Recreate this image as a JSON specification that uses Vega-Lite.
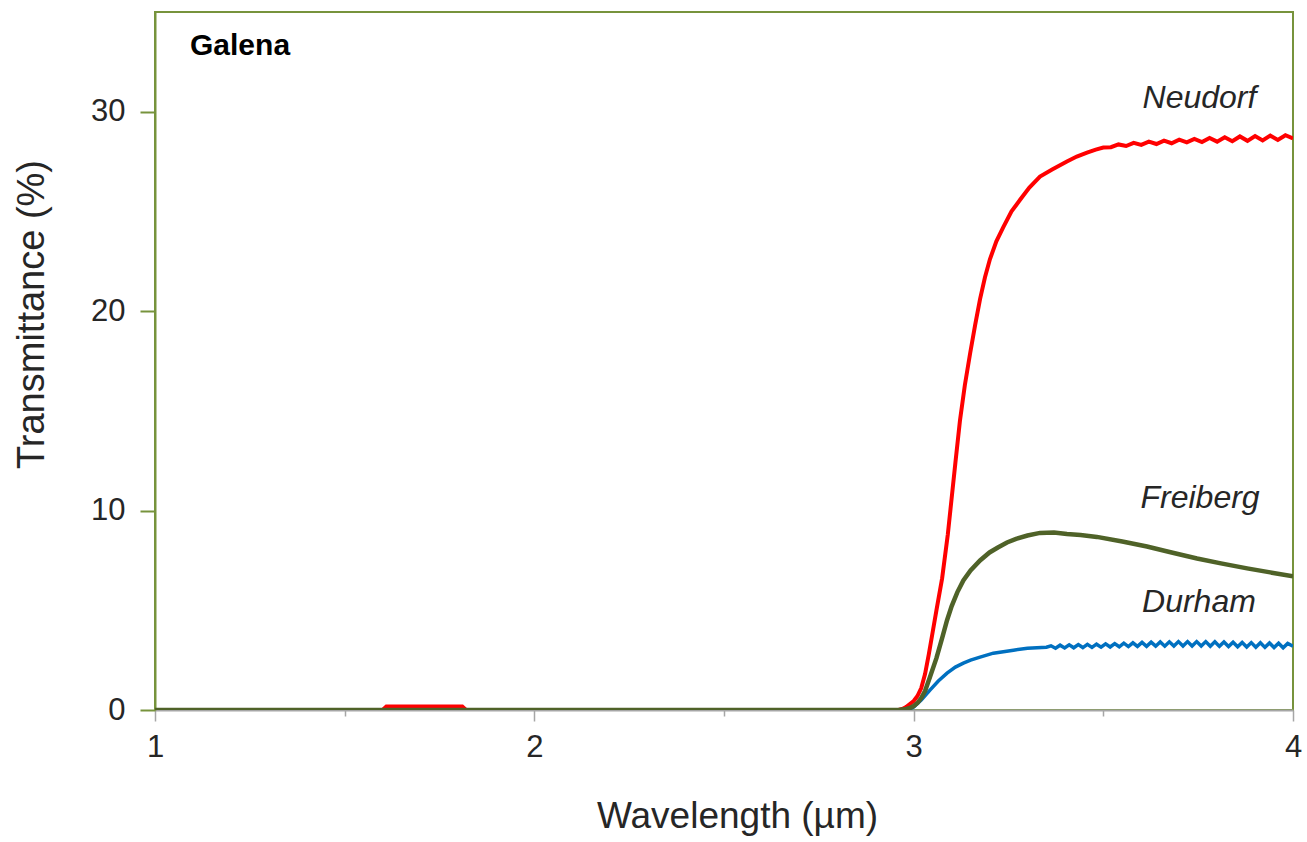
{
  "$schema": "https://vega.github.io/schema/vega-lite/v6.json",
  "width": 1138,
  "height": 698,
  "autosize": "none",
  "padding": {"left": 155, "top": 12, "right": 14, "bottom": 132},
  "background": "white",
  "config": {
    "view": {"stroke": "#77933C", "strokeWidth": 2},
    "font": "Liberation Sans"
  },
  "datasets": {
    "spectra": [
      {"s": "Durham", "w": 1.0, "t": 0},
      {"s": "Durham", "w": 2.96, "t": 0},
      {"s": "Durham", "w": 2.99, "t": 0.05},
      {"s": "Durham", "w": 3.0, "t": 0.15},
      {"s": "Durham", "w": 3.02, "t": 0.5},
      {"s": "Durham", "w": 3.043, "t": 1.0},
      {"s": "Durham", "w": 3.065, "t": 1.45},
      {"s": "Durham", "w": 3.088, "t": 1.85},
      {"s": "Durham", "w": 3.11, "t": 2.15},
      {"s": "Durham", "w": 3.131, "t": 2.35},
      {"s": "Durham", "w": 3.15, "t": 2.5},
      {"s": "Durham", "w": 3.175, "t": 2.65},
      {"s": "Durham", "w": 3.21, "t": 2.85},
      {"s": "Durham", "w": 3.263, "t": 3.0},
      {"s": "Durham", "w": 3.3, "t": 3.1},
      {"s": "Durham", "w": 3.35, "t": 3.15},
      {"s": "Durham", "w": 3.362, "t": 3.22},
      {"s": "Durham", "w": 3.374, "t": 3.1},
      {"s": "Durham", "w": 3.386, "t": 3.25},
      {"s": "Durham", "w": 3.398, "t": 3.11},
      {"s": "Durham", "w": 3.41, "t": 3.27},
      {"s": "Durham", "w": 3.422, "t": 3.12},
      {"s": "Durham", "w": 3.434, "t": 3.28},
      {"s": "Durham", "w": 3.446, "t": 3.13},
      {"s": "Durham", "w": 3.458, "t": 3.29},
      {"s": "Durham", "w": 3.47, "t": 3.14},
      {"s": "Durham", "w": 3.482, "t": 3.3},
      {"s": "Durham", "w": 3.494, "t": 3.15},
      {"s": "Durham", "w": 3.506, "t": 3.32},
      {"s": "Durham", "w": 3.518, "t": 3.16},
      {"s": "Durham", "w": 3.53, "t": 3.33},
      {"s": "Durham", "w": 3.542, "t": 3.17},
      {"s": "Durham", "w": 3.554, "t": 3.35},
      {"s": "Durham", "w": 3.566, "t": 3.18},
      {"s": "Durham", "w": 3.578, "t": 3.37},
      {"s": "Durham", "w": 3.59, "t": 3.19},
      {"s": "Durham", "w": 3.602, "t": 3.39},
      {"s": "Durham", "w": 3.614, "t": 3.19},
      {"s": "Durham", "w": 3.626, "t": 3.4},
      {"s": "Durham", "w": 3.638, "t": 3.2},
      {"s": "Durham", "w": 3.65, "t": 3.41},
      {"s": "Durham", "w": 3.662, "t": 3.2},
      {"s": "Durham", "w": 3.674, "t": 3.42},
      {"s": "Durham", "w": 3.686, "t": 3.21},
      {"s": "Durham", "w": 3.698, "t": 3.43},
      {"s": "Durham", "w": 3.71, "t": 3.21},
      {"s": "Durham", "w": 3.722, "t": 3.43},
      {"s": "Durham", "w": 3.734, "t": 3.21},
      {"s": "Durham", "w": 3.746, "t": 3.43},
      {"s": "Durham", "w": 3.758, "t": 3.21},
      {"s": "Durham", "w": 3.77, "t": 3.43},
      {"s": "Durham", "w": 3.782, "t": 3.2},
      {"s": "Durham", "w": 3.794, "t": 3.42},
      {"s": "Durham", "w": 3.806, "t": 3.19},
      {"s": "Durham", "w": 3.818, "t": 3.41},
      {"s": "Durham", "w": 3.83, "t": 3.18},
      {"s": "Durham", "w": 3.842, "t": 3.4},
      {"s": "Durham", "w": 3.854, "t": 3.17},
      {"s": "Durham", "w": 3.866, "t": 3.39},
      {"s": "Durham", "w": 3.878, "t": 3.16},
      {"s": "Durham", "w": 3.89, "t": 3.38},
      {"s": "Durham", "w": 3.902, "t": 3.15},
      {"s": "Durham", "w": 3.914, "t": 3.37},
      {"s": "Durham", "w": 3.926, "t": 3.14},
      {"s": "Durham", "w": 3.938, "t": 3.36},
      {"s": "Durham", "w": 3.95, "t": 3.13},
      {"s": "Durham", "w": 3.962, "t": 3.35},
      {"s": "Durham", "w": 3.974, "t": 3.12},
      {"s": "Durham", "w": 3.986, "t": 3.34},
      {"s": "Durham", "w": 4.0, "t": 3.2},

      {"s": "Neudorf", "w": 1.0, "t": 0},
      {"s": "Neudorf", "w": 1.6, "t": 0},
      {"s": "Neudorf", "w": 1.61, "t": 0.18},
      {"s": "Neudorf", "w": 1.81, "t": 0.18},
      {"s": "Neudorf", "w": 1.82, "t": 0},
      {"s": "Neudorf", "w": 2.96, "t": 0},
      {"s": "Neudorf", "w": 2.97, "t": 0.05},
      {"s": "Neudorf", "w": 2.98, "t": 0.15},
      {"s": "Neudorf", "w": 2.99, "t": 0.3},
      {"s": "Neudorf", "w": 3.0, "t": 0.45},
      {"s": "Neudorf", "w": 3.01, "t": 0.7},
      {"s": "Neudorf", "w": 3.02, "t": 1.1},
      {"s": "Neudorf", "w": 3.03, "t": 1.8},
      {"s": "Neudorf", "w": 3.04, "t": 2.8},
      {"s": "Neudorf", "w": 3.05, "t": 3.9},
      {"s": "Neudorf", "w": 3.06, "t": 5.0},
      {"s": "Neudorf", "w": 3.075, "t": 6.6},
      {"s": "Neudorf", "w": 3.09, "t": 8.8},
      {"s": "Neudorf", "w": 3.1, "t": 10.6},
      {"s": "Neudorf", "w": 3.11, "t": 12.4},
      {"s": "Neudorf", "w": 3.122, "t": 14.5},
      {"s": "Neudorf", "w": 3.135, "t": 16.3},
      {"s": "Neudorf", "w": 3.149, "t": 17.9},
      {"s": "Neudorf", "w": 3.162, "t": 19.3},
      {"s": "Neudorf", "w": 3.175, "t": 20.6},
      {"s": "Neudorf", "w": 3.188, "t": 21.7},
      {"s": "Neudorf", "w": 3.201, "t": 22.6},
      {"s": "Neudorf", "w": 3.218, "t": 23.5},
      {"s": "Neudorf", "w": 3.236, "t": 24.2},
      {"s": "Neudorf", "w": 3.258, "t": 25.0},
      {"s": "Neudorf", "w": 3.281, "t": 25.6},
      {"s": "Neudorf", "w": 3.305, "t": 26.2},
      {"s": "Neudorf", "w": 3.333, "t": 26.75},
      {"s": "Neudorf", "w": 3.365, "t": 27.1},
      {"s": "Neudorf", "w": 3.404, "t": 27.5},
      {"s": "Neudorf", "w": 3.43, "t": 27.75},
      {"s": "Neudorf", "w": 3.457, "t": 27.95},
      {"s": "Neudorf", "w": 3.48, "t": 28.1},
      {"s": "Neudorf", "w": 3.5, "t": 28.2},
      {"s": "Neudorf", "w": 3.52, "t": 28.22},
      {"s": "Neudorf", "w": 3.54, "t": 28.36},
      {"s": "Neudorf", "w": 3.56, "t": 28.28},
      {"s": "Neudorf", "w": 3.58, "t": 28.44},
      {"s": "Neudorf", "w": 3.6, "t": 28.34},
      {"s": "Neudorf", "w": 3.62, "t": 28.5},
      {"s": "Neudorf", "w": 3.64, "t": 28.38},
      {"s": "Neudorf", "w": 3.66, "t": 28.55},
      {"s": "Neudorf", "w": 3.68, "t": 28.42},
      {"s": "Neudorf", "w": 3.7, "t": 28.6},
      {"s": "Neudorf", "w": 3.72, "t": 28.46},
      {"s": "Neudorf", "w": 3.74, "t": 28.64},
      {"s": "Neudorf", "w": 3.76, "t": 28.48},
      {"s": "Neudorf", "w": 3.78, "t": 28.68},
      {"s": "Neudorf", "w": 3.8, "t": 28.5},
      {"s": "Neudorf", "w": 3.82, "t": 28.72},
      {"s": "Neudorf", "w": 3.84, "t": 28.52},
      {"s": "Neudorf", "w": 3.86, "t": 28.76},
      {"s": "Neudorf", "w": 3.88, "t": 28.54},
      {"s": "Neudorf", "w": 3.9, "t": 28.78},
      {"s": "Neudorf", "w": 3.92, "t": 28.56},
      {"s": "Neudorf", "w": 3.94, "t": 28.8},
      {"s": "Neudorf", "w": 3.96, "t": 28.58},
      {"s": "Neudorf", "w": 3.98, "t": 28.82},
      {"s": "Neudorf", "w": 4.0, "t": 28.66},

      {"s": "Freiberg", "w": 1.0, "t": 0},
      {"s": "Freiberg", "w": 2.96, "t": 0},
      {"s": "Freiberg", "w": 2.98, "t": 0.05},
      {"s": "Freiberg", "w": 2.99, "t": 0.1},
      {"s": "Freiberg", "w": 3.0, "t": 0.2},
      {"s": "Freiberg", "w": 3.01, "t": 0.35},
      {"s": "Freiberg", "w": 3.02, "t": 0.6},
      {"s": "Freiberg", "w": 3.03, "t": 0.95},
      {"s": "Freiberg", "w": 3.043, "t": 1.65},
      {"s": "Freiberg", "w": 3.06, "t": 2.6},
      {"s": "Freiberg", "w": 3.075, "t": 3.6},
      {"s": "Freiberg", "w": 3.088, "t": 4.5},
      {"s": "Freiberg", "w": 3.1, "t": 5.2},
      {"s": "Freiberg", "w": 3.115, "t": 5.9},
      {"s": "Freiberg", "w": 3.131, "t": 6.5},
      {"s": "Freiberg", "w": 3.15, "t": 7.0},
      {"s": "Freiberg", "w": 3.175, "t": 7.5},
      {"s": "Freiberg", "w": 3.2, "t": 7.9},
      {"s": "Freiberg", "w": 3.222, "t": 8.15},
      {"s": "Freiberg", "w": 3.246, "t": 8.4},
      {"s": "Freiberg", "w": 3.27, "t": 8.58},
      {"s": "Freiberg", "w": 3.3, "t": 8.75},
      {"s": "Freiberg", "w": 3.333, "t": 8.88},
      {"s": "Freiberg", "w": 3.37, "t": 8.9},
      {"s": "Freiberg", "w": 3.404, "t": 8.82},
      {"s": "Freiberg", "w": 3.44, "t": 8.77},
      {"s": "Freiberg", "w": 3.483, "t": 8.68},
      {"s": "Freiberg", "w": 3.55, "t": 8.45},
      {"s": "Freiberg", "w": 3.615, "t": 8.2},
      {"s": "Freiberg", "w": 3.68, "t": 7.9},
      {"s": "Freiberg", "w": 3.747, "t": 7.6},
      {"s": "Freiberg", "w": 3.81, "t": 7.35},
      {"s": "Freiberg", "w": 3.879, "t": 7.1},
      {"s": "Freiberg", "w": 3.94, "t": 6.9},
      {"s": "Freiberg", "w": 4.0, "t": 6.7}
    ],
    "labels": [
      {"label": "Neudorf", "w": 3.7535, "t": 30.19},
      {"label": "Freiberg", "w": 3.755, "t": 10.13},
      {"label": "Durham", "w": 3.752, "t": 4.91}
    ],
    "panel": [
      {"label": "Galena", "w": 1.0923, "t": 32.84}
    ]
  },
  "encoding": {
    "x": {
      "field": "w",
      "type": "quantitative",
      "scale": {"domain": [1, 4], "nice": false, "zero": false},
      "axis": {
        "title": "Wavelength (µm)",
        "values": [1, 1.5, 2, 2.5, 3, 3.5, 4],
        "labelExpr": "datum.value % 1 === 0 ? format(datum.value, 'd') : ''",
        "labelFlush": false,
        "labelOverlap": false,
        "labelBound": false,
        "grid": false,
        "domainColor": "#A6A6A6",
        "domainWidth": 2,
        "tickColor": "#A6A6A6",
        "tickWidth": 1.5,
        "tickSize": {"condition": {"test": "datum.value % 1 !== 0", "value": 6}, "value": 11},
        "labelFontSize": 31,
        "labelColor": "#262626",
        "labelPadding": 11,
        "labelFont": "Liberation Sans",
        "titleFont": "Liberation Sans",
        "titleFontSize": 37,
        "titleFontWeight": "normal",
        "titleColor": "#262626",
        "titleX": 582,
        "titleY": 117,
        "titleBaseline": "alphabetic",
        "titleAlign": "center"
      }
    },
    "y": {
      "field": "t",
      "type": "quantitative",
      "scale": {"domain": [0, 35], "nice": false},
      "axis": {
        "title": "Transmittance (%)",
        "values": [0, 10, 20, 30],
        "grid": false,
        "domainColor": "#77933C",
        "domainWidth": 2,
        "tickColor": "#77933C",
        "tickWidth": 2,
        "tickSize": 15,
        "labelFontSize": 31,
        "labelColor": "#262626",
        "labelPadding": 15,
        "labelFont": "Liberation Sans",
        "titleFont": "Liberation Sans",
        "titleFontSize": 38,
        "titleFontWeight": "normal",
        "titleColor": "#262626",
        "titleAngle": -90,
        "titleX": -112,
        "titleY": 302,
        "titleBaseline": "alphabetic",
        "titleAlign": "center"
      }
    }
  },
  "layer": [
    {
      "data": {"name": "spectra"},
      "transform": [{"filter": "datum.s === 'Durham'"}],
      "mark": {"type": "line", "color": "#0070C0", "strokeWidth": 3.5, "clip": true}
    },
    {
      "data": {"name": "spectra"},
      "transform": [{"filter": "datum.s === 'Neudorf'"}],
      "mark": {"type": "line", "color": "#FF0000", "strokeWidth": 4, "clip": true}
    },
    {
      "data": {"name": "spectra"},
      "transform": [{"filter": "datum.s === 'Freiberg'"}],
      "mark": {"type": "line", "color": "#4F6228", "strokeWidth": 4.5, "clip": true}
    },
    {
      "data": {"name": "labels"},
      "mark": {"type": "text", "font": "Liberation Sans", "fontSize": 32, "fontStyle": "italic", "color": "#262626", "align": "center", "baseline": "alphabetic"},
      "encoding": {"text": {"field": "label"}}
    },
    {
      "data": {"name": "panel"},
      "mark": {"type": "text", "font": "Liberation Sans", "fontSize": 30, "fontWeight": "bold", "color": "#000000", "align": "left", "baseline": "alphabetic"},
      "encoding": {"text": {"field": "label"}}
    }
  ]
}
